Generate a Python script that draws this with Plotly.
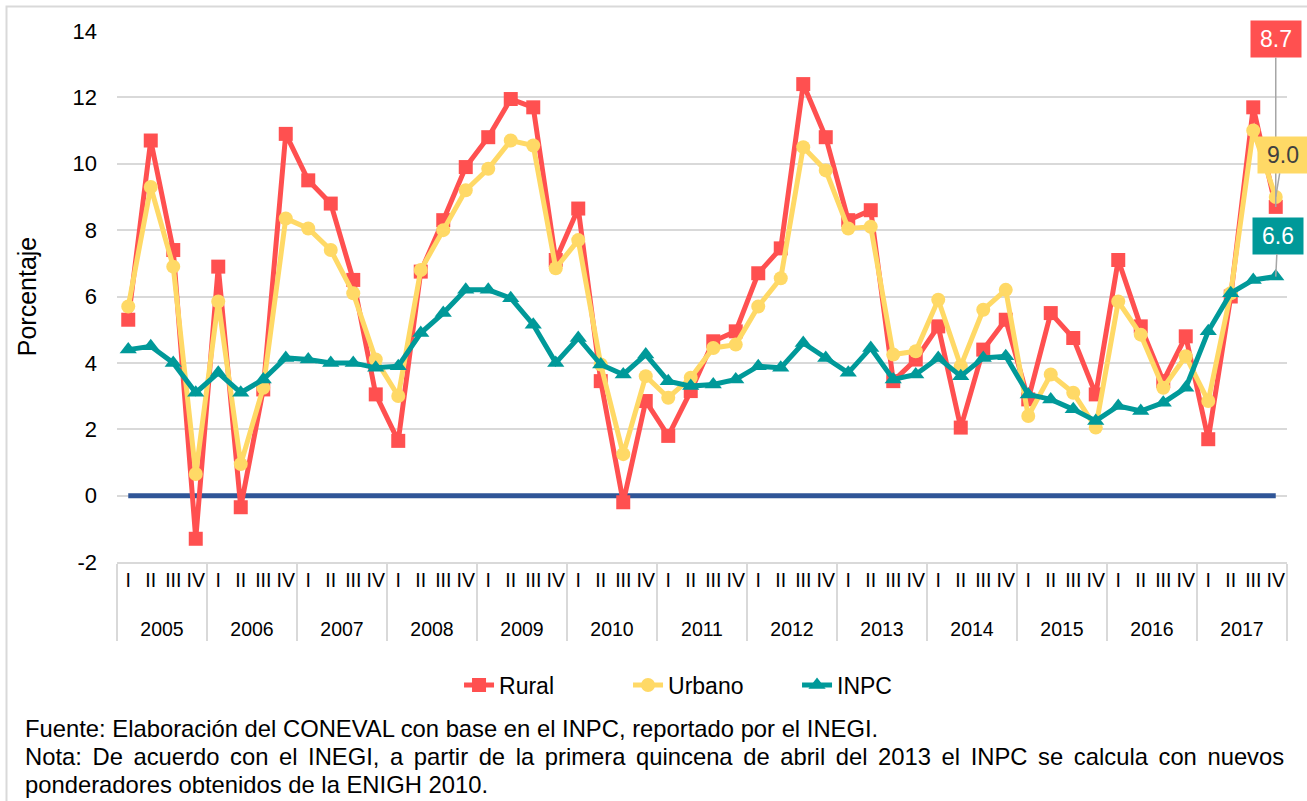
import plotly.graph_objects as go

years = [str(y) for y in range(2005, 2018)]
quarters = ["I", "II", "III", "IV"]
y_ticks = [-2, 0, 2, 4, 6, 8, 10, 12, 14]

rural = [5.3, 10.7, 7.4, -1.3,
         6.9, -0.35, 3.2, 10.9,
         9.5, 8.8, 6.5, 3.05,
         1.65, 6.75, 8.3, 9.9,
         10.8, 11.95, 11.7, 7.1,
         8.65, 3.45, -0.2, 2.85,
         1.8, 3.15, 4.65, 4.95,
         6.7, 7.45, 12.4, 10.8,
         8.3, 8.6, 3.45, 4.1,
         5.1, 2.05, 4.4, 5.3,
         2.9, 5.5, 4.75, 3.05,
         7.1, 5.1, 3.45, 4.8,
         1.7, 6.0, 11.7, 8.7]
urbano = [5.7, 9.3, 6.9, 0.65,
          5.85, 0.95, 3.25, 8.35,
          8.05, 7.4, 6.1, 4.1,
          3.0, 6.8, 8.0, 9.2,
          9.85, 10.7, 10.55, 6.85,
          7.7, 3.95, 1.25, 3.6,
          2.95, 3.55, 4.45, 4.55,
          5.7, 6.55, 10.5, 9.8,
          8.05, 8.1, 4.25, 4.35,
          5.9, 3.9, 5.6, 6.2,
          2.4, 3.65, 3.1, 2.05,
          5.85, 4.85, 3.25, 4.2,
          2.85, 6.1, 11.0, 9.0]
inpc = [4.4, 4.5, 4.0, 3.1,
        3.7, 3.1, 3.5, 4.15,
        4.1, 4.0, 4.0, 3.85,
        3.9, 4.9, 5.5, 6.2,
        6.2, 5.95, 5.15, 4.0,
        4.75, 3.95, 3.65, 4.25,
        3.45, 3.3, 3.35, 3.5,
        3.9, 3.85, 4.6, 4.15,
        3.7, 4.45, 3.5, 3.65,
        4.15, 3.6, 4.15, 4.2,
        3.05, 2.9, 2.6, 2.25,
        2.7, 2.55, 2.8, 3.25,
        4.95, 6.1, 6.5, 6.6]
cero = [0.0] * (len(years) * len(quarters))

# inner (quarter) labels get an empty second line so the year row sits lower
x_years = [y for y in years for _ in quarters]
x_quarters = [q + "<br>\u00a0" for _ in years for q in quarters]
X = [x_years, x_quarters]
n = len(x_years)

RED = "#FF5050"
YEL = "#FFD966"
TEAL = "#009999"
BLUE = "#2F5597"
GRID = "#D9D9D9"
FONT = "Arial, Liberation Sans, sans-serif"

fig = go.Figure()
fig.add_trace(go.Scatter(x=X, y=cero, mode="lines", line=dict(color=BLUE, width=5),
                         showlegend=False, hoverinfo="skip"))
fig.add_trace(go.Scatter(x=X, y=rural, name="Rural", mode="lines+markers",
                         line=dict(color=RED, width=5),
                         marker=dict(symbol="square", size=14, color=RED)))
fig.add_trace(go.Scatter(x=X, y=urbano, name="Urbano", mode="lines+markers",
                         line=dict(color=YEL, width=5),
                         marker=dict(symbol="circle", size=14, color=YEL)))
fig.add_trace(go.Scatter(x=X, y=inpc, name="INPC", mode="lines+markers",
                         line=dict(color=TEAL, width=5),
                         marker=dict(symbol="triangle-up", size=15, color=TEAL)))

last_x = (n - 1 + 0.5) / n
labels = [
    (rural[-1], RED, "white", 0, -168),
    (urbano[-1], YEL, "#404040", 7, -42),
    (inpc[-1], TEAL, "white", 2, -41),
]
annotations = []
for val, bg, fc, ax, ay in labels:
    annotations.append(dict(
        x=last_x, xref="paper", y=val, yref="y",
        text=f"{val:.1f}", showarrow=True, arrowhead=0, arrowwidth=1.5,
        arrowcolor="#A6A6A6", ax=ax, ay=ay, bgcolor=bg,
        font=dict(family=FONT, size=23, color=fc),
        borderpad=5, width=40,
    ))

SIXPEREM = "\u2006"
notes = [
    "Fuente: Elaboración del CONEVAL con base en el INPC, reportado por el INEGI.",
    ("Nota: De acuerdo con el INEGI, a partir de la primera quincena de abril del 2013 "
     "el INPC se calcula con nuevos").replace(" ", " " + SIXPEREM),
    "ponderadores obtenidos de la ENIGH 2010.",
]
for i, t in enumerate(notes):
    annotations.append(dict(
        x=(23 - 117) / 1170, xref="paper", y=-0.3137 - i * 0.0528, yref="paper",
        xanchor="left", yanchor="middle", showarrow=False, text=t,
        font=dict(family=FONT, size=23.8, color="black"),
    ))

fig.update_layout(
    width=1307, height=801,
    margin=dict(l=117, r=20, t=31, b=239),
    paper_bgcolor="white", plot_bgcolor="white",
    font=dict(family=FONT, color="black"),
    xaxis=dict(type="multicategory", range=[-0.5, n - 0.5], showgrid=False,
               tickmode="linear", tick0=0, dtick=1,
               showline=True, linecolor=GRID, linewidth=1.5,
               showdividers=True, dividercolor=GRID, dividerwidth=1.5,
               tickfont=dict(size=19.5, color="black"), tickangle=0),
    yaxis=dict(range=[-2, 14], tickmode="array", tickvals=y_ticks,
               ticktext=[str(v) for v in y_ticks],
               showgrid=True, gridcolor=GRID,
               gridwidth=1.5, zeroline=False, showline=False,
               tickfont=dict(size=22, color="black"), ticklabelstandoff=19,
               title=dict(text="Porcentaje", font=dict(size=25, color="black"),
                          standoff=28)),
    legend=dict(orientation="h", x=0.509, xanchor="center", y=-0.2316,
                yanchor="middle", font=dict(size=23, color="black"),
                entrywidth=124, bgcolor="rgba(0,0,0,0)"),
    annotations=annotations,
    shapes=[dict(type="rect", xref="paper", yref="paper",
                 x0=(6.5 - 117) / 1170, x1=(1320 - 117) / 1170,
                 y0=(562 - 820) / 531, y1=(562 - 6.5) / 531,
                 line=dict(color=GRID, width=2), fillcolor="rgba(0,0,0,0)",
                 layer="below")],
)

fig.write_html("out.html", config={"displayModeBar": False},
               post_script="document.body.style.margin='0';document.body.style.overflow='hidden';")
